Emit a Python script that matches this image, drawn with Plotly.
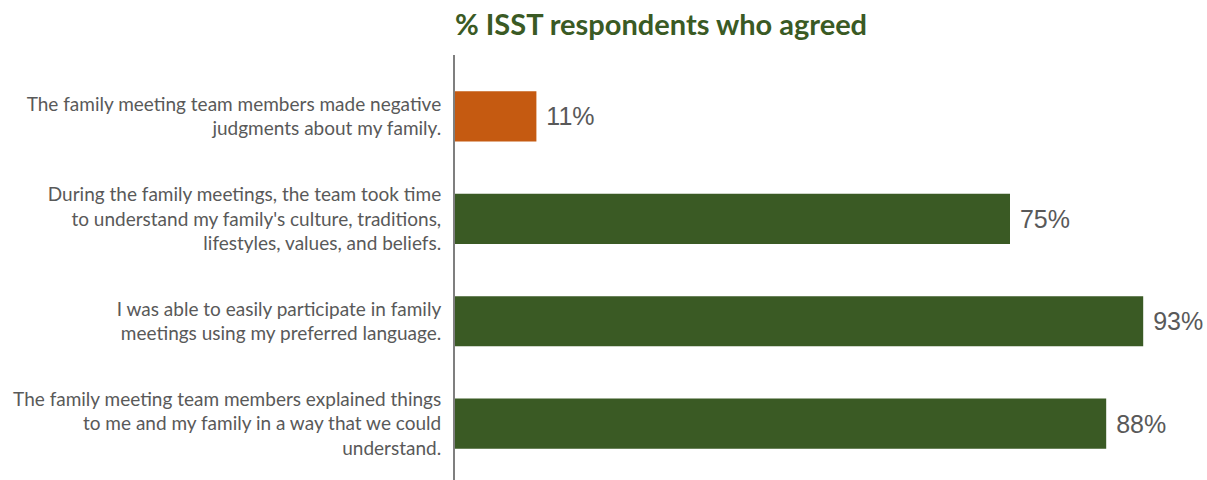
import plotly.graph_objects as go

statements = [
    "The family meeting team members made negative<br>judgments about my family.",
    "During the family meetings, the team took time<br>to understand my family's culture, traditions,<br>lifestyles, values, and beliefs.",
    "I was able to easily participate in family<br>meetings using my preferred language.",
    "The family meeting team members explained things<br>to me and my family in a way that we could<br>understand.",
]
pct_agreed = [11, 75, 93, 88]
bar_colors = ["#C55A11", "#3A5A24", "#3A5A24", "#3A5A24"]

fig = go.Figure(
    go.Bar(
        x=pct_agreed,
        y=statements,
        orientation="h",
        marker=dict(color=bar_colors, line=dict(width=0)),
        width=0.49,
        text=[f" {v}%" for v in pct_agreed],
        textposition="outside",
        textfont=dict(family="Liberation Sans, Arial", size=25, color="#595959"),
        cliponaxis=False,
    )
)

fig.update_layout(
    width=1207,
    height=480,
    margin=dict(l=455, r=12, t=55, b=0),
    paper_bgcolor="white",
    plot_bgcolor="white",
    showlegend=False,
    title=dict(
        text="<b>% ISST respondents who agreed</b>",
        font=dict(family="Lato", size=29, color="#3A5A24"),
        x=661 / 1207,
        xanchor="center",
        y=0.948,
        yanchor="middle",
    ),
    xaxis=dict(
        range=[0, 100],
        visible=False,
        showgrid=False,
    ),
    yaxis=dict(
        range=[3.55, -0.6],
        showline=True,
        linecolor="#7F7F7F",
        linewidth=2,
        ticks="",
        showgrid=False,
        tickfont=dict(family="Lato", size=19, color="#595959"),
        ticklabelstandoff=8,
    ),
)

fig.write_html("out.html")
